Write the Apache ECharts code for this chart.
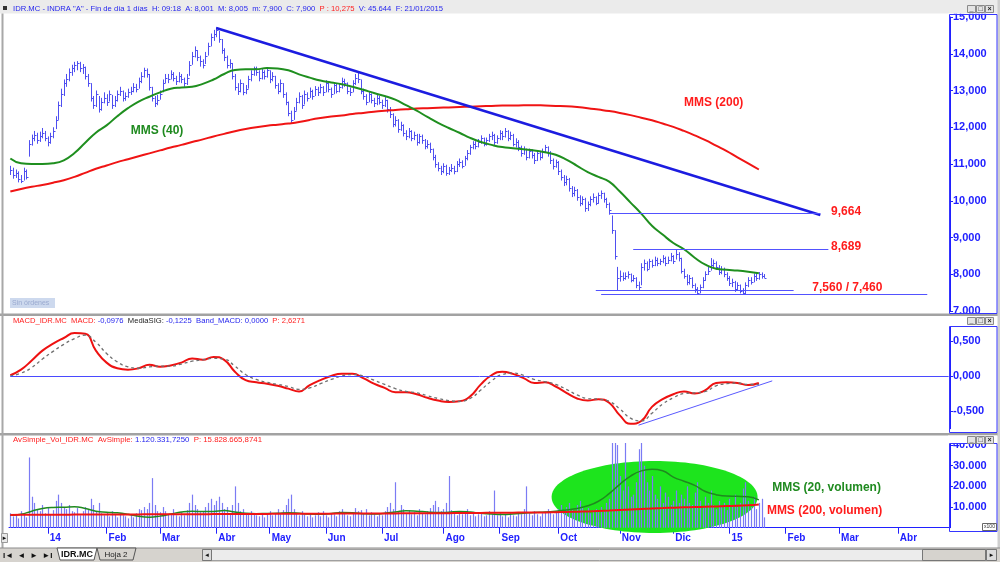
<!DOCTYPE html>
<html><head><meta charset="utf-8">
<script src="https://cdn.jsdelivr.net/npm/echarts@6/dist/echarts.min.js"></script>
<style>html,body{margin:0;padding:0;background:#fff}#c{width:1000px;height:562px}</style>
</head><body><div id="c"></div>
<script>
// ---------- calendar / tick labels ----------
const START = '2013-12-10', END = '2015-04-30';
const HOLIDAYS = ['2013-12-25','2013-12-26','2014-01-01','2014-04-18','2014-04-21','2014-05-01','2014-12-25','2014-12-26','2015-01-01','2015-04-03','2015-04-06'];
const TICK_LABELS = [['2014-01','14'],['2014-02','Feb'],['2014-03','Mar'],['2014-04','Abr'],['2014-05','May'],['2014-06','Jun'],['2014-07','Jul'],['2014-08','Ago'],['2014-09','Sep'],['2014-10','Oct'],['2014-11','Nov'],['2014-12','Dic'],['2015-01','15'],['2015-02','Feb'],['2015-03','Mar'],['2015-04','Abr']];
const PRICE_TICKS = [7,8,9,10,11,12,13,14,15];
const MACD_TICKS = [-0.5, 0, 0.5];
const VOL_TICKS = [10000, 20000, 30000, 40000];

// ---------- daily price bars (EUR) ----------
const CLOSE = [10.85,10.70,10.75,10.60,10.55,10.80,10.65,11.55,11.70,11.80,
11.65,11.75,11.85,11.70,11.60,11.75,11.90,12.20,12.60,12.90,
13.20,13.30,13.50,13.60,13.70,13.75,13.60,13.65,13.40,13.20,
12.80,12.60,12.90,12.50,12.70,12.80,12.70,12.90,12.60,12.75,
12.90,13.00,12.80,12.85,12.95,13.00,13.10,13.05,13.25,13.40,
13.55,13.45,13.10,12.80,12.65,12.75,12.90,13.20,13.35,13.30,
13.45,13.35,13.25,13.40,13.30,13.20,13.35,13.70,13.95,14.10,
13.90,13.80,13.70,13.95,14.20,14.45,14.55,14.65,14.40,14.10,
13.90,13.70,13.75,13.40,13.10,13.00,13.20,12.95,13.05,13.30,
13.45,13.60,13.50,13.35,13.50,13.40,13.55,13.30,13.40,13.15,
13.00,13.20,12.90,12.70,12.40,12.20,12.45,12.70,12.85,12.60,
12.90,12.80,13.00,12.85,13.05,12.95,13.10,12.95,13.20,13.05,
12.90,13.15,13.00,13.10,13.25,13.20,13.00,12.95,13.20,13.35,
13.30,13.00,12.85,12.70,12.90,12.75,12.65,12.80,12.70,12.60,
12.75,12.50,12.35,12.10,12.20,11.95,12.05,11.85,11.75,11.90,
11.70,11.80,11.60,11.75,11.65,11.50,11.55,11.40,11.20,11.00,
10.90,10.80,10.95,10.75,10.85,10.90,10.80,11.00,11.05,10.95,
11.15,11.30,11.45,11.55,11.50,11.60,11.70,11.55,11.65,11.75,
11.80,11.60,11.70,11.85,11.75,11.90,11.70,11.80,11.55,11.60,
11.45,11.30,11.40,11.20,11.35,11.25,11.10,11.30,11.20,11.35,
11.45,11.30,11.10,10.95,11.05,10.80,10.65,10.50,10.60,10.35,
10.20,10.30,10.10,9.95,10.05,9.80,9.90,10.05,10.10,9.95,
10.15,10.20,10.05,9.90,9.75,9.20,8.50,7.90,7.95,7.90,
7.95,8.00,7.85,7.90,7.70,7.65,8.20,8.30,8.15,8.35,
8.25,8.40,8.30,8.35,8.45,8.30,8.40,8.50,8.35,8.55,
8.45,8.10,7.95,7.80,7.90,7.70,7.60,7.50,7.65,7.85,
8.00,8.10,8.25,8.30,8.20,8.05,8.15,8.00,7.90,7.75,
7.80,7.60,7.70,7.55,7.50,7.70,7.85,7.80,7.95,7.90,
8.00,7.95,7.90];
const HIGH = [10.95,10.90,10.85,10.80,10.70,10.90,10.85,11.65,11.80,11.90,
11.85,11.88,11.98,11.90,11.75,11.85,12.00,12.30,12.70,13.05,
13.30,13.45,13.60,13.70,13.78,13.80,13.78,13.72,13.65,13.45,
13.20,12.85,13.00,12.85,12.80,12.95,12.90,13.00,12.88,12.85,
13.00,13.10,13.00,12.95,13.05,13.10,13.20,13.18,13.35,13.50,
13.62,13.60,13.45,13.10,12.85,12.88,13.00,13.30,13.45,13.45,
13.55,13.50,13.40,13.50,13.45,13.35,13.45,13.80,14.05,14.20,
14.10,13.95,13.85,14.05,14.30,14.55,14.65,14.72,14.62,14.40,
14.15,13.95,13.85,13.75,13.45,13.20,13.30,13.20,13.15,13.40,
13.55,13.65,13.65,13.55,13.60,13.55,13.62,13.55,13.50,13.40,
13.20,13.30,13.20,12.95,12.70,12.45,12.55,12.80,12.95,12.88,
13.00,12.95,13.08,13.02,13.12,13.10,13.18,13.12,13.28,13.22,
13.08,13.22,13.18,13.20,13.35,13.32,13.22,13.08,13.28,13.45,
13.50,13.30,13.05,12.90,12.98,12.92,12.80,12.88,12.85,12.75,
12.82,12.75,12.55,12.38,12.30,12.22,12.15,12.08,11.92,11.98,
11.92,11.88,11.82,11.82,11.80,11.68,11.65,11.58,11.42,11.25,
11.05,10.95,11.02,10.98,10.92,11.00,10.95,11.08,11.15,11.10,
11.22,11.38,11.52,11.62,11.62,11.68,11.78,11.72,11.72,11.82,
11.88,11.82,11.78,11.92,11.90,11.98,11.92,11.88,11.82,11.70,
11.65,11.50,11.48,11.42,11.42,11.40,11.30,11.38,11.35,11.42,
11.52,11.48,11.35,11.15,11.12,11.08,10.85,10.70,10.68,10.62,
10.40,10.38,10.32,10.15,10.12,10.08,9.98,10.12,10.20,10.12,
10.22,10.28,10.22,10.08,9.95,9.60,9.20,8.20,8.10,8.05,
8.05,8.08,8.02,7.98,7.92,7.80,8.30,8.40,8.35,8.42,
8.40,8.48,8.45,8.42,8.52,8.48,8.48,8.58,8.52,8.66,
8.60,8.45,8.15,8.00,7.98,7.92,7.75,7.65,7.72,7.92,
8.08,8.20,8.44,8.40,8.35,8.25,8.22,8.18,8.05,7.95,
7.88,7.82,7.78,7.72,7.62,7.78,7.92,7.92,8.02,8.05,
8.06,8.05,8.005];
const LOW = [10.70,10.60,10.62,10.50,10.48,10.55,10.58,11.20,11.50,11.62,
11.55,11.60,11.70,11.62,11.48,11.55,11.70,11.95,12.20,12.55,
12.85,13.10,13.25,13.40,13.50,13.55,13.50,13.45,13.30,13.10,
12.70,12.50,12.55,12.40,12.45,12.65,12.58,12.70,12.50,12.55,
12.70,12.85,12.70,12.72,12.80,12.88,12.95,12.95,13.05,13.20,
13.35,13.35,13.00,12.70,12.55,12.60,12.75,12.95,13.20,13.20,
13.30,13.25,13.15,13.22,13.20,13.10,13.15,13.40,13.70,13.90,
13.80,13.65,13.60,13.72,13.95,14.20,14.35,14.45,14.30,14.00,
13.80,13.60,13.60,13.30,13.00,12.88,12.95,12.87,12.90,13.05,
13.25,13.40,13.40,13.25,13.30,13.30,13.35,13.20,13.25,13.05,
12.90,12.95,12.80,12.60,12.30,12.12,12.20,12.45,12.65,12.50,
12.62,12.70,12.80,12.75,12.85,12.85,12.92,12.85,12.95,12.95,
12.80,12.90,12.92,12.95,13.05,13.10,12.90,12.85,12.95,13.15,
13.20,12.90,12.75,12.60,12.68,12.65,12.55,12.60,12.62,12.50,
12.55,12.40,12.25,12.00,12.02,11.85,11.90,11.75,11.65,11.70,
11.62,11.65,11.50,11.55,11.55,11.40,11.42,11.30,11.10,10.90,
10.80,10.70,10.75,10.68,10.70,10.78,10.72,10.78,10.92,10.88,
10.95,11.10,11.25,11.40,11.40,11.45,11.55,11.48,11.50,11.60,
11.65,11.52,11.55,11.65,11.65,11.72,11.62,11.65,11.48,11.45,
11.35,11.20,11.25,11.10,11.15,11.15,11.00,11.08,11.10,11.15,
11.30,11.20,11.00,10.85,10.90,10.70,10.55,10.40,10.42,10.25,
10.10,10.12,10.00,9.85,9.88,9.70,9.72,9.85,9.95,9.88,
9.92,10.05,9.95,9.80,9.62,9.10,8.40,7.56,7.80,7.82,
7.85,7.88,7.78,7.80,7.62,7.56,7.70,8.10,8.08,8.15,
8.18,8.22,8.22,8.25,8.30,8.22,8.28,8.35,8.28,8.40,
8.35,8.02,7.88,7.70,7.72,7.62,7.50,7.44,7.48,7.62,
7.82,7.98,8.10,8.18,8.12,7.98,8.00,7.92,7.82,7.68,
7.65,7.52,7.55,7.48,7.45,7.44,7.65,7.72,7.78,7.82,
7.85,7.88,7.90];

// ---------- daily volume (x100 shares) ----------
const VOLUME = [7000,5500,6000,4500,8000,6500,5000,34000,15000,12000,
9000,8000,11000,7000,9500,6500,8500,13000,16000,12000,
10000,9000,11000,8000,7500,9500,6000,8000,10000,9000,
14000,11000,8000,12000,7000,6000,7500,5500,8000,6500,
5000,7000,6000,5500,4500,6500,5000,7000,9000,8500,
10000,9000,12000,24000,11000,8000,7500,10000,8000,6500,
7000,9000,6000,5500,7500,6000,8500,12000,16000,11000,
9000,7500,8000,10000,12000,14000,11000,13000,15000,12000,
9000,10000,7000,11000,20000,12000,8000,9000,7000,6500,
8000,7000,6000,5500,7000,5000,6500,8000,6000,7000,
9000,6500,8500,11000,14000,16000,9000,7000,6000,8000,
6500,5500,7000,5000,6000,7500,5500,8000,6000,5000,
7000,6500,5500,8000,9000,7000,6000,5500,7500,9500,
8000,8500,7000,9000,6000,7500,6500,5500,7000,6000,
8000,10000,12000,9000,22000,8000,11000,9000,7000,8500,
6500,7500,6000,9000,7000,6500,8000,9500,11000,13000,
10000,8000,9000,12000,25000,8500,7000,6000,8000,6500,
7000,9000,6000,7500,5500,6500,7000,5500,6000,8000,
6500,18000,6000,7000,5500,6500,5000,7500,6000,5500,
7000,6500,9000,20000,7000,6000,8000,6500,5500,7000,
7500,9000,8000,6500,7500,9000,11000,8000,10000,12000,
9000,7500,11000,13000,10000,8000,9500,7000,8500,9000,
7500,10000,8000,12000,14000,42000,46000,40000,25000,18000,
42000,20000,15000,16000,22000,38000,44000,30000,22000,18000,
25000,16000,14000,20000,12000,17000,15000,11000,13000,18000,
12000,16000,14000,20000,12000,11000,17000,22000,13000,10000,
15000,12000,18000,11000,9000,13000,10000,12000,8500,14000,
11000,16000,10000,12000,19000,22000,13000,10000,15000,9000,
12000,14000,5000];

// ---------- indicator readings, one every STEP trading days ----------
const STEP = 4;
const MMS40 = [11.15,11.02,11.00,11.00,11.02,11.10,11.30,11.58,11.85,12.05,
12.30,12.52,12.70,12.83,12.95,13.05,13.08,13.10,13.18,13.30,
13.45,13.56,13.58,13.58,13.61,13.60,13.55,13.44,13.35,13.27,
13.22,13.17,13.10,13.02,12.93,12.85,12.75,12.60,12.45,12.28,
12.12,11.98,11.85,11.71,11.60,11.52,11.46,11.43,11.40,11.37,
11.32,11.25,11.12,10.95,10.78,10.65,10.52,10.25,9.95,9.65,
9.32,9.08,8.85,8.68,8.45,8.26,8.15,8.12,8.10,8.07,8.03];
const MMS200 = [10.25,10.32,10.38,10.43,10.49,10.56,10.65,10.76,10.87,10.96,
11.05,11.13,11.21,11.29,11.37,11.45,11.52,11.60,11.67,11.75,
11.82,11.89,11.95,12.00,12.04,12.07,12.10,12.14,12.20,12.25,
12.29,12.32,12.36,12.39,12.42,12.45,12.47,12.49,12.51,12.52,
12.53,12.54,12.55,12.56,12.57,12.58,12.59,12.59,12.60,12.60,
12.59,12.58,12.57,12.55,12.52,12.48,12.44,12.39,12.33,12.26,
12.19,12.10,12.01,11.90,11.78,11.65,11.50,11.35,11.18,11.02,10.85];
const MACD = [0.01,0.09,0.22,0.36,0.46,0.54,0.61,0.60,0.36,0.19,
0.11,0.09,0.11,0.16,0.13,0.15,0.19,0.25,0.23,0.27,
0.23,0.06,-0.06,-0.09,-0.11,-0.14,-0.18,-0.22,-0.13,-0.06,
0.00,0.03,0.03,-0.03,-0.11,-0.17,-0.23,-0.23,-0.26,-0.31,
-0.35,-0.37,-0.36,-0.29,-0.12,0.01,0.06,0.03,-0.03,-0.10,
-0.09,-0.15,-0.24,-0.32,-0.35,-0.33,-0.38,-0.56,-0.68,-0.64,
-0.44,-0.33,-0.26,-0.22,-0.25,-0.20,-0.10,-0.09,-0.10,-0.13,-0.10];
const MEDIASIG = [0.00,0.04,0.12,0.24,0.35,0.45,0.53,0.58,0.48,0.32,
0.20,0.13,0.11,0.13,0.14,0.14,0.17,0.21,0.23,0.25,
0.24,0.14,0.02,-0.05,-0.09,-0.12,-0.15,-0.19,-0.17,-0.11,
-0.05,0.00,0.02,0.00,-0.06,-0.12,-0.18,-0.22,-0.24,-0.28,
-0.32,-0.35,-0.36,-0.32,-0.20,-0.07,0.02,0.04,0.01,-0.05,
-0.08,-0.12,-0.19,-0.27,-0.32,-0.33,-0.36,-0.47,-0.60,-0.64,
-0.53,-0.40,-0.31,-0.25,-0.24,-0.22,-0.14,-0.11,-0.10,-0.12,-0.12];
const VOL_MMS20 = [6000,6500,8000,9300,9800,9900,10200,9300,8000,7500,
7200,6500,5500,5100,5600,6600,7600,8000,7800,7900,
8300,7600,7000,6800,6900,7000,7200,7000,6600,6500,
6900,7300,7200,6800,6600,7000,7600,8200,8000,7600,
7300,7500,7900,7600,7000,6600,6400,6600,7000,7400,
7600,8000,8600,9300,10600,12800,16500,21000,25000,27500,
28300,27600,24500,22500,20500,17500,16000,15300,15200,15000,13500];
const VOL_MMS200 = [6200,6230,6240,6280,6290,6300,6340,6350,6360,6400,
6410,6420,6450,6460,6490,6500,6520,6550,6560,6580,
6610,6620,6650,6660,6680,6710,6720,6740,6770,6780,
6800,6830,6840,6860,6890,6900,6930,6940,6960,6990,
7000,7040,7080,7110,7160,7200,7230,7280,7320,7370,
7400,7500,7600,7750,7900,8100,8300,8550,8800,9050,
9300,9500,9700,9850,10000,10150,10300,10450,10600,10850,11200];

// ---------- text ----------
const HEADER_MAIN = [['b','IDR.MC - INDRA "A" - Fin de día 1 días  H: 09:18  A: 8,001  M: 8,005  m: 7,900  C: 7,900  '],['r','P : 10,275'],['b','  V: 45.644  F: 21/01/2015']];
const HEADER_MACD = [['r','MACD_IDR.MC  MACD: '],['b','-0,0976'],['k','  MediaSIG: '],['b','-0,1225  Band_MACD: 0,0000'],['r','  P: 2,6271']];
const HEADER_VOL = [['r','AvSimple_Vol_IDR.MC  AvSimple: '],['b','1.120.331,7250'],['r','  P: 15.828.665,8741']];
const RED = '#ff1c1c', GREEN = '#1f8a1f', BLUE = '#2020ff';
const ANNOTATIONS = [
  {text:'MMS (40)', axes:0, at:[45, 11.90], color:GREEN},
  {text:'MMS (200)', axes:0, at:[252, 12.66], color:RED},
  {text:'9,664', axes:0, at:[307, 9.694], color:RED},
  {text:'8,689', axes:0, at:[307, 8.741], color:RED},
  {text:'7,560 / 7,460', axes:0, at:[300, 7.626], color:RED},
  {text:'MMS (20, volumen)', axes:2, at:[285, 19225], color:GREEN},
  {text:'MMS (200, volumen)', axes:2, at:[283, 8087], color:RED}
];
const TRENDLINE = [[77, 14.70], [303, 9.612]];
const LEVELS = [[224, 303, 9.664], [233, 306, 8.689], [219, 293, 7.560], [221, 343, 7.460]];
const MACD_TREND = [[235, -0.70], [285, -0.07]];
const ELLIPSE_AT = [241, 14866];

// ---------- build ----------
const dates = [];
for (let d = new Date(START + 'T12:00:00Z'); d <= new Date(END + 'T12:00:00Z'); d.setUTCDate(d.getUTCDate() + 1)) {
  const wd = d.getUTCDay(), s = d.toISOString().slice(0, 10);
  if (wd === 0 || wd === 6 || HOLIDAYS.includes(s)) continue;
  dates.push(s);
}
const monthLabel = Object.fromEntries(TICK_LABELS);
const monthStart = new Set();
dates.forEach((d, i) => { const m = d.slice(0, 7); if (i > 0 && dates[i - 1].slice(0, 7) !== m && monthLabel[m]) monthStart.add(i); });

const FONT = '"Liberation Sans", Arial, sans-serif';
const PRICE_C = '#4f4ff0', VOL_C = '#7b7bf4';
const comma3 = v => v.toFixed(3).replace('.', ',');
const dots = v => String(Math.round(v)).replace(/\B(?=(\d{3})+(?!\d))/g, '.');
const sampled = arr => arr.map((v, k) => [k * STEP, v]);

const grids = [
  {left: 9, right: 50, top: 17, height: 294, outerBoundsMode: 'none'},
  {left: 9, right: 50, top: 316.2, height: 112.5, outerBoundsMode: 'none'},
  {left: 9, right: 50, top: 443, height: 84.7, outerBoundsMode: 'none'}
];
function xAx(g) {
  const bottom = g === 2;
  return {
    type: 'category', gridIndex: g, data: dates, boundaryGap: true, show: bottom, offset: 3,
    axisLine: {show: bottom, lineStyle: {color: BLUE, width: 1}},
    axisTick: {show: bottom, interval: i => monthStart.has(i), alignWithLabel: true, length: 6, lineStyle: {color: BLUE}},
    axisLabel: {show: bottom, interval: i => monthStart.has(i), formatter: v => monthLabel[v.slice(0, 7)] || '',
      align: 'left', padding: [0, 0, 0, 2], margin: 3, color: BLUE, fontWeight: 'bold', fontSize: 10, fontFamily: FONT},
    splitLine: {show: false}
  };
}
function yAx(g, min, max, ticks, fmt) {
  return {
    type: 'value', gridIndex: g, position: 'right', min, max, scale: false,
    axisLine: {show: true, lineStyle: {color: BLUE, width: 1}},
    axisTick: {show: true, length: 3, customValues: ticks, lineStyle: {color: BLUE}},
    axisLabel: {customValues: ticks, margin: 3, color: BLUE, fontWeight: 'bold', fontSize: 11, fontFamily: FONT, formatter: fmt},
    splitLine: {show: false}
  };
}

const option = {
  animation: false,
  backgroundColor: '#ffffff',
  grid: grids,
  xAxis: [xAx(0), xAx(1), xAx(2)],
  yAxis: [yAx(0, 7, 15, PRICE_TICKS, comma3), yAx(1, -0.75, 0.85, MACD_TICKS, comma3), yAx(2, 0, 41000, VOL_TICKS, dots)],
  series: [
    {
      type: 'custom', name: 'IDR.MC', xAxisIndex: 0, yAxisIndex: 0, z: 3,
      data: CLOSE.map((c, i) => [i, HIGH[i], LOW[i], c]),
      encode: {x: 0, y: [1, 2, 3]},
      renderItem(params, api) {
        const i = api.value(0);
        const hi = api.coord([i, api.value(1)]), lo = api.coord([i, api.value(2)]), cl = api.coord([i, api.value(3)]);
        const px = Math.round(hi[0]) + 0.5, cy = Math.round(cl[1]) + 0.5;
        return {type: 'group', children: [
          {type: 'line', shape: {x1: px, y1: hi[1], x2: px, y2: lo[1]}, style: {stroke: PRICE_C, lineWidth: 1}},
          {type: 'line', shape: {x1: px, y1: cy, x2: px + 2, y2: cy}, style: {stroke: PRICE_C, lineWidth: 1}}
        ]};
      }
    },
    {type: 'line', name: 'MMS (200)', xAxisIndex: 0, yAxisIndex: 0, data: sampled(MMS200), smooth: true, showSymbol: false, z: 4,
      lineStyle: {color: '#f01414', width: 2}},
    {type: 'line', name: 'MMS (40)', xAxisIndex: 0, yAxisIndex: 0, data: sampled(MMS40), smooth: true, showSymbol: false, z: 4,
      lineStyle: {color: '#1f8f1f', width: 2},
      markLine: {silent: true, symbol: ['none', 'none'], label: {show: false}, emphasis: {disabled: true},
        data: [
          [{coord: TRENDLINE[0], lineStyle: {color: '#1c1ce0', width: 2.5, type: 'solid'}}, {coord: TRENDLINE[1]}],
          ...LEVELS.map(l => [{coord: [l[0], l[2]], lineStyle: {color: '#5252ff', width: 1, type: 'solid'}}, {coord: [l[1], l[2]]}])
        ]}},
    {type: 'line', name: 'MACD', xAxisIndex: 1, yAxisIndex: 1, data: sampled(MACD), smooth: true, showSymbol: false, z: 3,
      lineStyle: {color: '#ee1111', width: 2},
      markLine: {silent: true, symbol: ['none', 'none'], label: {show: false}, emphasis: {disabled: true},
        data: [
          [{coord: [0, 0], lineStyle: {color: '#4a4aff', width: 1, type: 'solid'}}, {coord: [dates.length - 1, 0]}],
          [{coord: MACD_TREND[0], lineStyle: {color: '#5a5aff', width: 1, type: 'solid'}}, {coord: MACD_TREND[1]}]
        ]}},
    {type: 'line', name: 'MediaSIG', xAxisIndex: 1, yAxisIndex: 1, data: sampled(MEDIASIG), smooth: true, showSymbol: false, z: 4,
      lineStyle: {color: '#707070', width: 1.3, type: [3, 3]}},
    {
      type: 'custom', name: 'Volumen', xAxisIndex: 2, yAxisIndex: 2, z: 3,
      data: VOLUME.map((v, i) => [i, v]), encode: {x: 0, y: 1},
      renderItem(params, api) {
        const i = api.value(0);
        const top = api.coord([i, api.value(1)]), base = api.coord([i, 0]);
        const px = Math.round(top[0]) + 0.5;
        const y1 = Math.max(top[1], params.coordSys.y);
        return {type: 'line', shape: {x1: px, y1: y1, x2: px, y2: base[1]}, style: {stroke: VOL_C, lineWidth: 1.2}};
      }
    },
    {type: 'line', name: 'MMS (20, volumen)', xAxisIndex: 2, yAxisIndex: 2, data: sampled(VOL_MMS20), smooth: true, showSymbol: false, z: 4,
      lineStyle: {color: '#1f8a1f', width: 1.5}},
    {type: 'line', name: 'MMS (200, volumen)', xAxisIndex: 2, yAxisIndex: 2, data: sampled(VOL_MMS200), smooth: true, showSymbol: false, z: 5,
      lineStyle: {color: '#f01414', width: 2}}
  ]
};

const chart = echarts.init(document.getElementById('c'), null, {renderer: 'canvas'});
chart.setOption(option);

// ---------- chrome + annotations ----------
const mctx = document.createElement('canvas').getContext('2d');
function richHeader(parts, x, y, targetW) {
  const f = '8px ' + FONT;
  mctx.font = f;
  const w = mctx.measureText(parts.map(p => p[1]).join('')).width;
  const colors = {b: '#2525ee', r: '#ff2020', k: '#222222'};
  const rich = {};
  Object.keys(colors).forEach(k => rich[k] = {fill: colors[k], font: f});
  return {type: 'text', x: x, y: y, scaleX: targetW / w, z: 120,
    style: {text: parts.map(p => '{' + p[0] + '|' + p[1].replace(/[{}|]/g, '') + '}').join(''), rich, font: f, verticalAlign: 'middle', align: 'left'}};
}
function winButtons(y) {
  const out = [];
  ['_', '□', '×'].forEach((g, k) => {
    out.push({type: 'rect', z: 120, shape: {x: 967.5 + k * 9, y: y - 3.5, width: 8, height: 7}, style: {fill: '#e4e4e4', stroke: '#8a8a8a', lineWidth: 1}});
    out.push({type: 'text', z: 121, x: 971.5 + k * 9, y: y, style: {text: g, font: 'bold 7px ' + FONT, fill: '#222', align: 'center', verticalAlign: 'middle'}});
  });
  return out;
}
const G = [];
// header strip
G.push({type: 'rect', z: 100, shape: {x: 0, y: 0, width: 1000, height: 13.5}, style: {fill: '#ebebeb'}});
G.push({type: 'rect', z: 100, shape: {x: 948, y: 13.5, width: 49, height: 1.5}, style: {fill: '#ffffff'}});
G.push({type: 'rect', z: 121, shape: {x: 3, y: 6, width: 4, height: 4}, style: {fill: '#333'}});
G.push(richHeader(HEADER_MAIN, 13, 8.5, 430));
G.push(...winButtons(9));
// separators
G.push({type: 'rect', z: 100, shape: {x: 0, y: 313.5, width: 1000, height: 2.5}, style: {fill: '#a2a2a2'}});
G.push({type: 'rect', z: 100, shape: {x: 0, y: 433, width: 1000, height: 2.5}, style: {fill: '#a2a2a2'}});
// covers over axis strips above the boxes
G.push({type: 'rect', z: 100, shape: {x: 948, y: 316, width: 49, height: 10}, style: {fill: '#ffffff'}});
G.push({type: 'rect', z: 100, shape: {x: 948, y: 435.5, width: 49, height: 8}, style: {fill: '#ffffff'}});
G.push(richHeader(HEADER_MACD, 13, 320.5, 292));
G.push(richHeader(HEADER_VOL, 13, 440, 249));
G.push(...winButtons(321));
G.push(...winButtons(440));
// axis boxes
[[14.5, 299], [326.5, 106], [443.5, 88]].forEach(b => G.push({type: 'rect', z: 110, shape: {x: 949.5, y: b[0], width: 47.5, height: b[1]}, style: {fill: 'none', stroke: '#3535ff', lineWidth: 1}}));
G.push({type: 'rect', z: 111, shape: {x: 982.5, y: 523.5, width: 14, height: 7}, style: {fill: '#fff', stroke: '#666', lineWidth: 1}});
G.push({type: 'text', z: 112, x: 989.5, y: 527, style: {text: 'x100', font: '5px ' + FONT, fill: '#333', align: 'center', verticalAlign: 'middle'}});
// frame edges
G.push({type: 'rect', z: 100, shape: {x: 1.5, y: 13.5, width: 2, height: 535}, style: {fill: '#a8a8a8'}});
G.push({type: 'rect', z: 100, shape: {x: 997.5, y: 0, width: 2.5, height: 562}, style: {fill: '#cfcfcf'}});
// "Sin órdenes"
G.push({type: 'rect', z: 100, shape: {x: 10, y: 298, width: 45, height: 10}, style: {fill: '#cdd9ee'}});
G.push({type: 'text', z: 101, x: 12, y: 303, style: {text: 'Sin órdenes', font: '7px ' + FONT, fill: '#9aaad0', verticalAlign: 'middle'}});
// x-axis left button
G.push({type: 'rect', z: 100, shape: {x: 1.5, y: 533.5, width: 6, height: 9}, style: {fill: '#e8e8e8', stroke: '#999', lineWidth: 1}});
G.push({type: 'text', z: 101, x: 4.5, y: 538, style: {text: '►', font: '6px ' + FONT, fill: '#111', align: 'center', verticalAlign: 'middle'}});
// bottom tab row
G.push({type: 'rect', z: 100, shape: {x: 0, y: 548, width: 1000, height: 14}, style: {fill: '#d6d3ce'}});
G.push({type: 'rect', z: 100, shape: {x: 0, y: 547.5, width: 1000, height: 1}, style: {fill: '#8c8c8c'}});
G.push({type: 'text', z: 101, x: 3, y: 555.5, style: {text: 'I◄  ◄  ►  ►I', font: 'bold 8px ' + FONT, fill: '#111', verticalAlign: 'middle'}});
G.push({type: 'polygon', z: 100, shape: {points: [[57, 548], [97, 548], [94, 560], [60, 560]]}, style: {fill: '#ffffff', stroke: '#555', lineWidth: 1}});
G.push({type: 'text', z: 101, x: 77, y: 554.5, style: {text: 'IDR.MC', font: 'bold 9px ' + FONT, fill: '#111', align: 'center', verticalAlign: 'middle'}});
G.push({type: 'polygon', z: 100, shape: {points: [[97, 548], [136, 548], [133, 560], [100, 560]]}, style: {fill: '#d6d3ce', stroke: '#555', lineWidth: 1}});
G.push({type: 'text', z: 101, x: 116, y: 554.5, style: {text: 'Hoja 2', font: '8px ' + FONT, fill: '#222', align: 'center', verticalAlign: 'middle'}});
G.push({type: 'rect', z: 100, shape: {x: 202.5, y: 549.5, width: 794, height: 11}, style: {fill: '#ececec', stroke: '#a0a0a0', lineWidth: 1}});
G.push({type: 'rect', z: 101, shape: {x: 202.5, y: 549.5, width: 9, height: 11}, style: {fill: '#dcdcdc', stroke: '#777', lineWidth: 1}});
G.push({type: 'text', z: 102, x: 207, y: 555, style: {text: '◄', font: '6px ' + FONT, fill: '#111', align: 'center', verticalAlign: 'middle'}});
G.push({type: 'rect', z: 101, shape: {x: 922.5, y: 549.5, width: 63, height: 11}, style: {fill: '#d6d3ce', stroke: '#777', lineWidth: 1}});
G.push({type: 'rect', z: 101, shape: {x: 986.5, y: 549.5, width: 10, height: 11}, style: {fill: '#dcdcdc', stroke: '#777', lineWidth: 1}});
G.push({type: 'text', z: 102, x: 991.5, y: 555, style: {text: '►', font: '6px ' + FONT, fill: '#111', align: 'center', verticalAlign: 'middle'}});
// ellipse highlighting volume (below series)
const ec = chart.convertToPixel({xAxisIndex: 2, yAxisIndex: 2}, ELLIPSE_AT);
G.push({type: 'ellipse', z: 1, shape: {cx: ec[0], cy: ec[1], rx: 103, ry: 36}, style: {fill: '#1de41d'}});
// annotation texts
ANNOTATIONS.forEach(a => {
  const p = chart.convertToPixel({xAxisIndex: a.axes, yAxisIndex: a.axes}, a.at);
  G.push({type: 'text', z: 90, x: p[0], y: p[1], style: {text: a.text, font: 'bold 12px ' + FONT, fill: a.color, align: 'left', verticalAlign: 'middle'}});
});
chart.setOption({graphic: G});
</script>
</body></html>
